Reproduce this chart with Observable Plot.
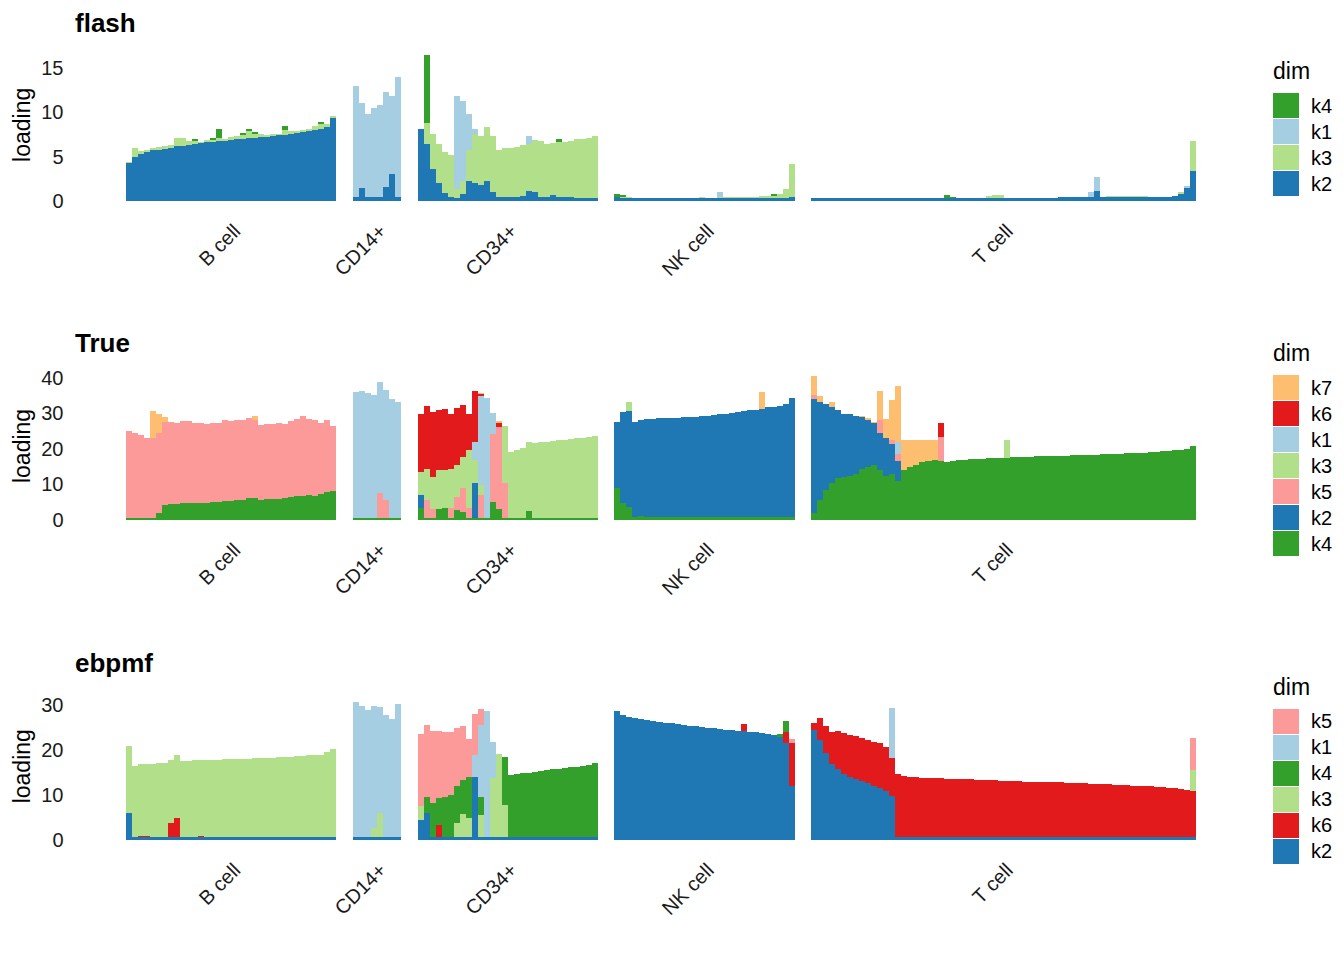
<!DOCTYPE html>
<html><head><meta charset="utf-8">
<script src="https://cdn.jsdelivr.net/npm/d3@7"></script>
<script src="https://cdn.jsdelivr.net/npm/@observablehq/plot@0.6"></script>
<style>
body{margin:0;background:#fff;font-family:"Liberation Sans",Arial,sans-serif;}
#root{position:relative;width:1344px;height:960px;overflow:hidden;background:#fff;}
.panel{position:absolute;left:0;width:1344px;height:320px;}
.panel svg{position:absolute;left:0;top:0;}
.title{position:absolute;left:75px;top:10px;font-size:26px;font-weight:bold;line-height:26px;color:#000;}
.legend{position:absolute;left:1273px;color:#000;}
.legend .lt{font-size:23px;line-height:23px;height:33px;}
.legend .row{display:flex;align-items:center;height:26px;}
.legend .sw{width:26px;height:26px;box-sizing:border-box;border-bottom:1px solid #fff;}
.legend .lab{margin-left:12px;font-size:20px;}
</style></head><body><div id="root"></div><script>
// ---------------- categories ----------------
const groups = ["B cell", "CD14+", "CD34+", "NK cell", "T cell"];
const groupSizes = [35, 8, 30, 30, 64];
const groupGap = 2.75;
const dimColors = {k1:"#A6CEE3", k2:"#1F78B4", k3:"#B2DF8A", k4:"#33A02C", k5:"#FB9A99", k6:"#E31A1C", k7:"#FDBF6F"};

// ---------------- flash ----------------
const flashDims = ["k4","k1","k3","k2"];
const flashTicks = [0, 5, 10, 15];
const flash_B_k2 = [4.3,5.0,5.3,5.5,5.7,5.8,5.9,6.0,6.15,6.25, 6.35,6.45,6.5,6.6,6.65,6.75,6.8,6.9,6.95,7.0, 7.05,7.1,7.2,7.25,7.3,7.4,7.45,7.55,7.65,7.75, 7.85,8.0,8.15,8.4,9.4];
const flash_B_k3 = [0.1,1.0,0.3,0.3,0.3,0.3,0.3,0.3,0.9,0.9, 0.4,0.3,0.2,0.3,0.2,0.3,0.2,0.3,0.4,0.4, 0.8,0.4,0.3,0.2,0.2,0.2,0.6,0.4,0.3,0.3, 0.3,0.5,0.5,0.3,0.2];
const flash_B_k4 = [0,0,0,0,0,0,0,0,0,0, 0,0.2,0,0,0.2,1.1,0,0,0,0.3, 0.3,0.3,0,0,0,0,0.4,0,0,0, 0,0,0.3,0,0];
const flash_CD14_k2 = [0.4,1.5,0.4,0.4,0.5,1.6,3.0,0.5];
const flash_CD14_k1 = [12.6,9.5,9.4,10.1,10.3,10.7,8.8,13.5];
const flash_CD34_k2 = [8.1,6.4,3.6,2.0,0.9,0.5,0.3,0.8,2.3,2.0, 1.8,2.3,1.0,0.5,0.5,0.5,0.5,0.6,1.1,1.0, 0.5,0.5,0.7,0.5,0.4,0.4,0.3,0.3,0.3,0.3];
const flash_CD34_k3 = [0,2.4,3.9,4.4,4.6,4.7,1.0,1.5,3.5,5.5, 5.5,6.1,6.3,5.2,5.45,5.5,5.6,5.7,5.3,5.85, 6.3,5.9,5.8,6.2,6.3,6.4,6.65,6.7,6.8,7.0];
const flash_CD34_k1 = [0,0,0,0,0,0,10.5,9.0,4.0,0.6, 0,0,0,0,0,0,0,0,0.9,0, 0,0,0,0,0,0,0,0,0,0];
const flash_CD34_k4 = [0,7.7,0,0,0,0,0,0,0,0, 0,0,0,0,0,0,0,0,0,0, 0,0,0,0.3,0,0,0,0,0,0];
const flash_NK_k2 = [0.4,0.35,0.35,0.35,0.35,0.35,0.35,0.35,0.35,0.35, 0.35,0.35,0.35,0.35,0.35,0.35,0.35,0.35,0.35,0.35, 0.35,0.35,0.35,0.35,0.35,0.35,0.35,0.35,0.35,0.4];
const flash_NK_k3 = [0.1,0.1,0.05,0,0,0,0,0,0,0, 0,0,0,0,0.05,0,0,0.1,0.1,0.1, 0.1,0.15,0.15,0.15,0.2,0.2,0.2,0.4,1.0,3.8];
const flash_NK_k4 = [0.3,0.2,0,0,0,0,0,0,0,0, 0,0,0,0,0,0,0,0,0,0, 0,0,0,0,0,0,0.2,0,0,0];
const flash_NK_k1 = [0,0,0,0,0,0,0,0,0,0, 0,0,0,0,0,0,0,0.6,0,0, 0,0,0,0,0,0,0,0,0,0];
const flash_T_k2 = [0.35,0.35,0.35,0.35,0.35,0.35,0.35,0.35,0.35,0.35, 0.35,0.35,0.35,0.35,0.35,0.35,0.35,0.35,0.35,0.35, 0.35,0.35,0.35,0.35,0.35,0.35,0.35,0.35,0.35,0.35, 0.35,0.35,0.35,0.35,0.35,0.35,0.35,0.35,0.35,0.35, 0.35,0.4,0.4,0.4,0.4,0.4,0.4,1.1,0.45,0.45, 0.45,0.45,0.45,0.45,0.45,0.45,0.5,0.5,0.5,0.5, 0.6,0.8,1.5,3.4];
const flash_T_k1 = [0,0,0,0,0,0,0,0,0,0, 0,0,0,0,0,0,0,0,0,0, 0,0,0,0,0,0,0,0,0,0, 0,0,0,0,0,0,0,0,0,0, 0,0,0,0,0,0,0.6,1.6,0,0, 0,0,0,0,0,0,0,0,0,0, 0,0,0.2,0];
const flash_T_k3 = [0,0,0,0,0,0,0,0,0,0, 0,0,0,0,0,0,0,0,0,0, 0,0,0,0,0,0,0,0,0,0.2, 0.3,0.3,0,0,0,0,0,0,0,0, 0,0,0,0,0,0,0,0,0,0.1, 0.1,0.1,0.1,0.1,0.1,0.1,0,0,0,0, 0,0.2,0,3.4];
const flash_T_k4 = [0,0,0,0,0,0,0,0,0,0, 0,0,0,0,0,0,0,0,0,0, 0,0,0.3,0.15,0,0,0,0,0,0, 0,0,0,0,0,0,0,0,0,0, 0,0,0,0,0,0,0,0,0,0, 0,0,0,0,0,0,0,0,0,0, 0,0,0,0];

// ---------------- True ----------------
const trueDims = ["k7","k6","k1","k3","k5","k2","k4"];
const trueTicks = [0, 10, 20, 30, 40];
const true_B_k4 = [0.5,0.5,0.5,0.5,0.5,2.0,4.3,4.5,4.6,4.8, 4.9,4.8,4.8,4.9,5.0,5.2,5.3,5.4,5.5,5.7, 6.1,6.2,5.6,5.8,5.9,6.0,6.2,6.5,6.7,6.9, 7.0,6.8,7.3,7.9,8.1];
const true_B_k5 = [24.5,24.1,23.4,22.5,22.5,22.5,23.4,23.2,22.6,23.2, 23.0,22.4,22.4,22.1,22.2,22.2,22.9,22.5,22.7,22.6, 22.5,22.0,21.1,21.2,21.1,21.3,20.8,21.5,21.8,22.5, 21.5,21.3,20.1,20.2,18.3];
const true_B_k7 = [0,0,0,0,7.8,5.5,1.4,0,0,0, 0,0,0,0,0,0,0,0,0,0, 0,1.0,0,0,0,0,0,0,0,0, 0,0,0,0,0];
const true_CD14_k4 = [0.5,0.5,0.5,0.5,0.5,0.5,0.5,0.5];
const true_CD14_k5 = [0,0,0,0,7.0,5.0,0,0];
const true_CD14_k1 = [35.5,35.9,35.3,34.8,31.3,31.0,33.5,32.7];
const true_CD34_k4 = [3.5,0.5,0.5,3.0,3.3,0.5,2.8,2.3,0.5,0.5, 0.5,0.5,5.1,3.0,0.5,0.5,0.5,0.5,2.5,0.5, 0.5,0.5,0.5,0.5,0.5,0.5,0.5,0.5,0.5,0.5];
const true_CD34_k2 = [3.5,0,0,0,0,0,0,0,0,10.0, 0,0,0,0,0,0,0,0,0,0, 0,0,0,0,0,0,0,0,0,0];
const true_CD34_k5 = [0,5.1,2.5,0,0,3.0,3.7,6.6,3.0,0, 6.5,0,19.0,23.3,9.8,0,0,0,0,0, 0,0,0,0,0,0,0,0,0,0];
const true_CD34_k3 = [6.6,8.9,9.0,11.1,10.8,11.0,9.0,8.9,16.3,6.4, 3.0,0,0,0,16.2,18.7,19.3,19.9,19.5,21.3, 21.4,21.6,21.8,21.9,22.1,22.3,22.5,22.7,23.0,23.3];
const true_CD34_k1 = [0,0,0,0,0,0,0,0,0,5.0, 25.0,33.8,6.0,0,0,0,0,0,0,0, 0,0,0,0,0,0,0,0,0,0];
const true_CD34_k6 = [16.4,17.5,18.5,16.9,17.1,15.5,16.0,14.6,10.2,14.5, 0.5,0,0,1.0,0,0,0,0,0,0, 0,0,0,0,0,0,0,0,0,0];
const true_CD34_k7 = [0,0,0,0,0,0,0,0,0,0, 0.3,0,0,0.5,0,0,0,0,0,0, 0,0,0,0,0,0,0,0,0,0];
const true_NK_k4 = [9.0,4.7,3.8,0.9,1.0,0.8,0.8,0.8,0.8,0.8, 0.8,0.8,0.8,0.8,0.8,0.8,0.8,0.8,0.8,0.8, 0.8,0.8,0.8,0.8,0.8,0.8,0.8,0.8,0.8,0.8];
const true_NK_k2 = [18.5,25.8,27.0,26.6,27.2,27.6,27.7,27.8,27.8,27.9, 28.0,28.1,28.2,28.3,28.4,28.6,28.8,29.0,29.2,29.4, 29.7,29.9,30.1,30.2,30.6,30.9,31.1,31.4,31.9,33.7];
const true_NK_k3 = [0,0,2.5,0,0,0,0,0,0,0, 0,0,0,0,0,0,0,0,0,0, 0,0,0,0,0,0,0,0,0,0];
const true_NK_k7 = [0,0,0,0,0,0,0,0,0,0, 0,0,0,0,0,0,0,0,0,0, 0,0,0,0,4.6,0,0,0,0,0];
const true_T_k4 = [2.0,5.5,8.5,10.5,11.7,12.2,12.5,13.0,14.3,14.8, 15.5,14.0,12.5,13.0,11.0,14.2,15.0,15.5,16.2,16.6, 17.0,16.5,16.2,16.5,16.8,17.0,17.1,17.2,17.3,17.4, 17.5,17.6,17.6,17.7,17.75,17.8,17.85,17.9,17.95,18.0, 18.05,18.1,18.15,18.2,18.25,18.3,18.35,18.4,18.5,18.55, 18.6,18.7,18.75,18.8,18.9,19.0,19.1,19.2,19.3,19.45, 19.6,19.8,20.1,20.8];
const true_T_k2 = [32.2,27.8,24.3,21.4,19.3,17.8,17.3,16.3,14.6,13.4, 11.7,10.4,10.5,8.5,5.5,0,0,0,0,0, 0,0,0,0,0,0,0,0,0,0, 0,0,0,0,0,0,0,0,0,0, 0,0,0,0,0,0,0,0,0,0, 0,0,0,0,0,0,0,0,0,0, 0,0,0,0];
const true_T_k5 = [1.0,0,0,0,0,0,0,0,0,0, 0,3.8,0,1.0,2.0,0,0,0,0,0, 0,6.8,0,0,0,0,0,0,0,0, 0,0,0,0,0,0,0,0,0,0, 0,0,0,0,0,0,0,0,0,0, 0,0,0,0,0,0,0,0,0,0, 0,0,0,0];
const true_T_k1 = [0,0,0,0,0,0,0,0,0,0, 0,0,0,0,3.5,0,0,0,0,0, 0,0,0,0,0,0,0,0,0,0, 0,0,0,0,0,0,0,0,0,0, 0,0,0,0,0,0,0,0,0,0, 0,0,0,0,0,0,0,0,0,0, 0,0,0,0];
const true_T_k7 = [5.3,1.5,0,1.2,0,0,0,0,0.4,0.4, 0.5,8.2,5.5,11.3,15.8,8.3,7.5,7.0,6.3,5.9, 5.5,0,0,0,0,0,0,0,0,0, 0,0,0,0,0,0,0,0,0,0, 0,0,0,0,0,0,0,0,0,0, 0,0,0,0,0,0,0,0,0,0, 0,0,0,0];
const true_T_k6 = [0,0,0,0,0,0,0,0,0,0, 0,0,0,0,0,0,0,0,0,0, 0,4.1,0,0,0,0,0,0,0,0, 0,0,0,0,0,0,0,0,0,0, 0,0,0,0,0,0,0,0,0,0, 0,0,0,0,0,0,0,0,0,0, 0,0,0,0];
const true_T_k3 = [0,0,0,0,0,0,0,0,0,0, 0,0,0,0,0,0,0,0,0,0, 0,0,0,0,0,0,0,0,0,0, 0,0,5.0,0,0,0,0,0,0,0, 0,0,0,0,0,0,0,0,0,0, 0,0,0,0,0,0,0,0,0,0, 0,0,0,0];

// ---------------- ebpmf ----------------
const ebDims = ["k5","k1","k4","k3","k6","k2"];
const ebTicks = [0, 10, 20, 30];
const eb_B_k2 = [6.0,0.7,0.7,0.7,0.7,0.7,0.7,0.7,0.7,0.7, 0.7,0.7,0.7,0.7,0.7,0.7,0.7,0.7,0.7,0.7, 0.7,0.7,0.7,0.7,0.7,0.7,0.7,0.7,0.7,0.7, 0.7,0.7,0.7,0.7,0.7];
const eb_B_k6 = [0,0,0.2,0.2,0,0,0,3.0,4.2,0, 0,0,0.1,0,0,0,0,0,0,0, 0,0,0,0,0,0,0,0,0,0, 0,0,0,0,0];
const eb_B_k3 = [15.0,15.8,15.9,16.0,16.3,16.4,16.5,14.0,14.1,16.9, 16.9,17.0,16.9,17.1,17.1,17.15,17.2,17.25,17.3,17.35, 17.4,17.45,17.5,17.55,17.6,17.65,17.7,17.8,17.9,18.0, 18.1,18.2,18.3,18.8,19.6];
const eb_CD14_k2 = [0.7,0.7,0.7,0.7,0.7,0.7,0.7,0.7];
const eb_CD14_k3 = [0,0,0,2.0,5.4,0,0,0];
const eb_CD14_k1 = [29.9,29.1,28.3,27.1,23.4,27.1,26.1,29.5];
const eb_CD34_k2 = [4.5,6.0,0.7,0.7,0.7,0.7,0.7,0.7,0.7,14.0, 0.7,0.7,0.7,0.7,0.7,0.7,0.7,0.7,0.7,0.7, 0.7,0.7,0.7,0.7,0.7,0.7,0.7,0.7,0.7,0.7];
const eb_CD34_k6 = [0,0,0,2.6,0,0,0,0,0,0, 0,0,0,0,0,0,0,0,0,0, 0,0,0,0,0,0,0,0,0,0];
const eb_CD34_k3 = [3.0,0,0,0,0,0,3.0,5.0,4.3,0, 4.9,0,13.0,18.4,7.0,0,0,0,0,0, 0,0,0,0,0,0,0,0,0,0];
const eb_CD34_k4 = [0,3.5,7.5,6.0,8.9,9.3,8.2,7.6,9.0,0, 4.0,0,0,0,10.8,13.8,14.0,14.2,14.3,14.5, 14.7,14.9,15.0,15.15,15.3,15.45,15.6,15.8,16.0,16.4];
const eb_CD34_k1 = [0,0,0,0,0,0,0,0,0,5.0, 16.0,28.0,8.0,0,0,0,0,0,0,0, 0,0,0,0,0,0,0,0,0,0];
const eb_CD34_k5 = [16.0,16.0,16.0,15.0,14.4,14.0,13.0,12.0,8.5,9.0, 3.5,0,0,0,0,0,0,0,0,0, 0,0,0,0,0,0,0,0,0,0];
const eb_NK_k2 = [28.6,27.8,27.4,27.1,26.8,26.6,26.4,26.2,26.0,25.9, 25.7,25.6,25.4,25.3,25.1,24.9,24.8,24.6,24.5,24.4, 24.3,24.2,24.0,23.9,23.8,23.6,23.4,23.0,21.5,12.0];
const eb_NK_k6 = [0,0,0,0,0,0,0,0,0,0, 0,0,0,0,0,0,0,0,0,0, 0,1.5,0,0,0,0,0,0,2.5,9.5];
const eb_NK_k4 = [0,0,0,0,0,0,0,0,0,0, 0,0,0,0,0,0,0,0,0,0, 0,0,0,0,0,0,0,0.5,2.5,0];
const eb_NK_k5 = [0,0,0,0,0,0,0,0,0,0, 0,0,0,0,0,0,0,0,0,0, 0,0,0,0,0,0,0,0,0,1.0];
const eb_T_k2 = [24.5,22.3,19.3,17.0,15.8,14.6,14.0,13.6,13.2,12.7, 12.1,11.6,10.8,9.8,0.7,0.7,0.7,0.7,0.7,0.7, 0.7,0.7,0.7,0.7,0.7,0.7,0.7,0.7,0.7,0.7, 0.7,0.7,0.7,0.7,0.7,0.7,0.7,0.7,0.7,0.7, 0.7,0.7,0.7,0.7,0.7,0.7,0.7,0.7,0.7,0.7, 0.7,0.7,0.7,0.7,0.7,0.7,0.7,0.7,0.7,0.7, 0.7,0.7,0.7,0.7];
const eb_T_k6 = [1.5,4.8,6.0,7.0,8.5,9.1,9.3,9.6,9.4,9.5, 9.6,10.0,9.8,8.5,14.0,13.6,13.4,13.2,13.15,13.1, 13.05,13.0,12.95,12.9,12.85,12.8,12.75,12.7,12.65,12.6, 12.55,12.5,12.45,12.4,12.35,12.3,12.3,12.25,12.2,12.15, 12.1,12.1,12.05,12.0,11.95,11.9,11.85,11.8,11.75,11.7, 11.6,11.55,11.5,11.4,11.3,11.25,11.2,11.1,11.0,10.9, 10.8,10.7,10.4,10.3];
const eb_T_k1 = [0,0,0,0,0,0,0,0,0,0, 0,0,0,11.0,0,0,0,0,0,0, 0,0,0,0,0,0,0,0,0,0, 0,0,0,0,0,0,0,0,0,0, 0,0,0,0,0,0,0,0,0,0, 0,0,0,0,0,0,0,0,0,0, 0,0,0,0];
const eb_T_k3 = [0,0,0,0,0,0,0,0,0,0, 0,0,0,0,0,0,0,0,0,0, 0,0,0,0,0,0,0,0,0,0, 0,0,0,0,0,0,0,0,0,0, 0,0,0,0,0,0,0,0,0,0, 0,0,0,0,0,0,0,0,0,0, 0,0,0,4.6];
const eb_T_k5 = [0,0,0,0,0,0,0,0,0,0, 0,0,0,0,0,0,0,0,0,0, 0,0,0,0,0,0,0,0,0,0, 0,0,0,0,0,0,0,0,0,0, 0,0,0,0,0,0,0,0,0,0, 0,0,0,0,0,0,0,0,0,0, 0,0,0,7.0];

// ---------------- series tables (built from the arrays) ----------------
const flashSeries = [
  ["B cell","k2",flash_B_k2],["B cell","k3",flash_B_k3],["B cell","k4",flash_B_k4],
  ["CD14+","k2",flash_CD14_k2],["CD14+","k1",flash_CD14_k1],
  ["CD34+","k2",flash_CD34_k2],["CD34+","k3",flash_CD34_k3],["CD34+","k1",flash_CD34_k1],["CD34+","k4",flash_CD34_k4],
  ["NK cell","k2",flash_NK_k2],["NK cell","k3",flash_NK_k3],["NK cell","k1",flash_NK_k1],["NK cell","k4",flash_NK_k4],
  ["T cell","k2",flash_T_k2],["T cell","k3",flash_T_k3],["T cell","k1",flash_T_k1],["T cell","k4",flash_T_k4]
];
const trueSeries = [
  ["B cell","k4",true_B_k4],["B cell","k5",true_B_k5],["B cell","k7",true_B_k7],
  ["CD14+","k4",true_CD14_k4],["CD14+","k5",true_CD14_k5],["CD14+","k1",true_CD14_k1],
  ["CD34+","k4",true_CD34_k4],["CD34+","k2",true_CD34_k2],["CD34+","k5",true_CD34_k5],["CD34+","k3",true_CD34_k3],["CD34+","k1",true_CD34_k1],["CD34+","k6",true_CD34_k6],["CD34+","k7",true_CD34_k7],
  ["NK cell","k4",true_NK_k4],["NK cell","k2",true_NK_k2],["NK cell","k3",true_NK_k3],["NK cell","k7",true_NK_k7],
  ["T cell","k4",true_T_k4],["T cell","k2",true_T_k2],["T cell","k5",true_T_k5],["T cell","k1",true_T_k1],["T cell","k3",true_T_k3],["T cell","k6",true_T_k6],["T cell","k7",true_T_k7]
];
const ebSeries = [
  ["B cell","k2",eb_B_k2],["B cell","k6",eb_B_k6],["B cell","k3",eb_B_k3],
  ["CD14+","k2",eb_CD14_k2],["CD14+","k3",eb_CD14_k3],["CD14+","k1",eb_CD14_k1],
  ["CD34+","k2",eb_CD34_k2],["CD34+","k6",eb_CD34_k6],["CD34+","k3",eb_CD34_k3],["CD34+","k4",eb_CD34_k4],["CD34+","k1",eb_CD34_k1],["CD34+","k5",eb_CD34_k5],
  ["NK cell","k2",eb_NK_k2],["NK cell","k6",eb_NK_k6],["NK cell","k4",eb_NK_k4],["NK cell","k5",eb_NK_k5],
  ["T cell","k2",eb_T_k2],["T cell","k6",eb_T_k6],["T cell","k3",eb_T_k3],["T cell","k1",eb_T_k1],["T cell","k5",eb_T_k5]
];

// ---------------- layout ----------------
const groupStarts = [];
{ let s = 0; groupSizes.forEach((n, i) => { groupStarts.push(s); s += n + groupGap; }); }
const xEnd = groupStarts[groupStarts.length - 1] + groupSizes[groupSizes.length - 1];
const groupLabels = groups.map((g, i) => ({name: g, center: groupStarts[i] + groupSizes[i] / 2}));

function buildRows(series, dims) {
  const rows = [];
  const stackOrder = dims.slice().reverse();
  groups.forEach((g, gi) => {
    for (let i = 0; i < groupSizes[gi]; i++) {
      let y = 0;
      for (const d of stackOrder) {
        const s = series.find(s => s[0] === g && s[1] === d);
        const v = s ? s[2][i] : 0;
        if (v > 0) {
          rows.push({group: g, dim: d, x1: groupStarts[gi] + i, x2: groupStarts[gi] + i + 1, y1: y, y2: y + v});
          y += v;
        }
      }
    }
  });
  series.forEach(s => {
    const n = groupSizes[groups.indexOf(s[0])];
    if (s[2].length !== n) console.warn("length mismatch", s[0], s[1], s[2].length, n);
  });
  return rows;
}

const panels = [
  {title: "flash", dims: flashDims, series: flashSeries, ticks: flashTicks, zeroY: 201, ppu: 8.867, ymax: 17.3},
  {title: "True", dims: trueDims, series: trueSeries, ticks: trueTicks, zeroY: 200, ppu: 3.55, ymax: 42},
  {title: "ebpmf", dims: ebDims, series: ebSeries, ticks: ebTicks, zeroY: 200, ppu: 4.5, ymax: 33}
];

const root = document.getElementById("root");
panels.forEach((p, pi) => {
  const div = document.createElement("div");
  div.className = "panel";
  div.style.top = (pi * 320) + "px";
  root.appendChild(div);
  const marginTop = p.zeroY - p.ymax * p.ppu;
  const marginBottom = 320 - p.zeroY;
  const rows = buildRows(p.series, p.dims);
  const chart = Plot.plot({
    width: 1344, height: 320,
    marginLeft: 126, marginRight: 148, marginTop, marginBottom,
    x: {domain: [0, xEnd], axis: null},
    y: {domain: [0, p.ymax], axis: null},
    color: {domain: p.dims, range: p.dims.map(d => dimColors[d])},
    style: {fontFamily: "'Liberation Sans', Arial, sans-serif", color: "#1a1a1a", background: "transparent"},
    marks: [
      Plot.rect(rows, {x1: "x1", x2: "x2", y1: "y1", y2: "y2", fill: "dim", shapeRendering: "crispEdges"}),
      Plot.axisY({ticks: p.ticks, tickSize: 0, tickPadding: 63, fontSize: 20, label: null}),
      Plot.text(groupLabels, {x: "center", text: "name", frameAnchor: "bottom", rotate: -45, textAnchor: "end", lineAnchor: "top", dx: 0, dy: 21, fontSize: 20}),
      Plot.text(["loading"], {text: d => d, frameAnchor: "left", textAnchor: "middle", lineAnchor: "middle", dx: -104, rotate: -90, fontSize: 23, fill: "#000"})
    ]
  });
  div.appendChild(chart);

  const t = document.createElement("div");
  t.className = "title";
  t.textContent = p.title;
  div.appendChild(t);

  const plotCenter = (marginTop + p.zeroY) / 2;
  const swatchTop = plotCenter + 21 - p.dims.length * 13;
  const leg = document.createElement("div");
  leg.className = "legend";
  leg.style.top = (swatchTop - 33) + "px";
  const lt = document.createElement("div");
  lt.className = "lt";
  lt.textContent = "dim";
  leg.appendChild(lt);
  p.dims.forEach(d => {
    const r = document.createElement("div");
    r.className = "row";
    const sw = document.createElement("div");
    sw.className = "sw";
    sw.style.background = dimColors[d];
    const lab = document.createElement("div");
    lab.className = "lab";
    lab.textContent = d;
    r.appendChild(sw); r.appendChild(lab);
    leg.appendChild(r);
  });
  div.appendChild(leg);
});
</script></body></html>
